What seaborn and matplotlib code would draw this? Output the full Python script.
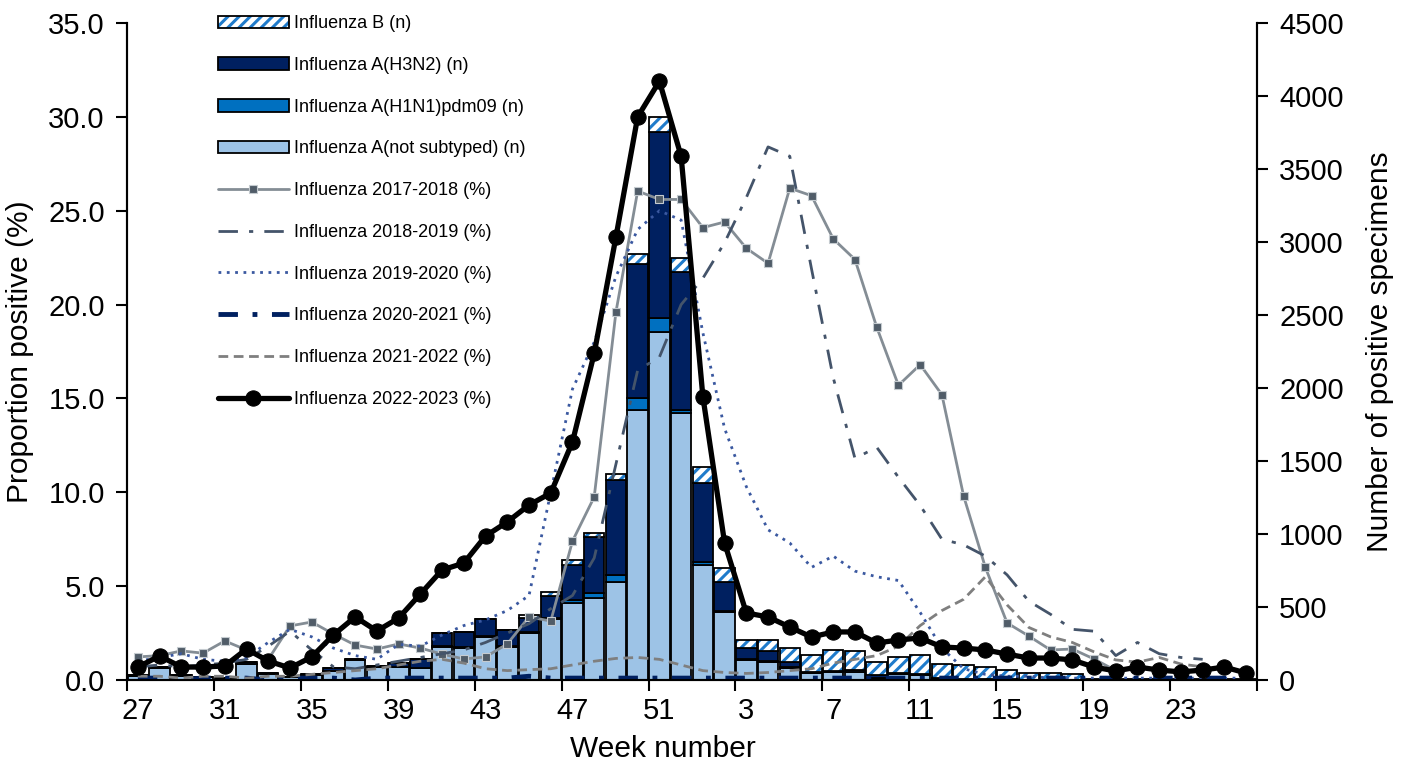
import numpy as np
import matplotlib
matplotlib.use("Agg")
import matplotlib.pyplot as plt
import matplotlib.patches as mpatches
from matplotlib.legend_handler import HandlerTuple
import seaborn as sns

# week axis: season runs week 27 .. week 26 of next year
weeks = list(range(27, 53)) + list(range(1, 27))
tick_weeks = [27, 31, 35, 39, 43, 47, 51, 3, 7, 11, 15, 19, 23]

# number of positive specimens (right axis), stacked bottom -> top
a_not_subtyped = [30, 82, 30, 18, 12, 110, 40, 18, 36, 62, 137, 90, 89, 82, 226, 219, 294, 226, 322, 418,
                  527, 562, 671, 1849, 2383, 1829, 788, 466, 137, 123, 82, 48, 55, 55, 14, 40, 34, 8, 5, 5,
                  4, 3, 3, 3, 2, 2, 2, 2, 2, 2, 2, 2]
a_h1n1 = [0, 0, 0, 0, 0, 0, 0, 0, 0, 0, 0, 0, 0, 0, 8, 8, 6, 8, 6, 10,
          20, 34, 50, 82, 96, 21, 21, 10, 5, 5, 4, 3, 2, 2, 2, 2, 2, 1, 0, 0,
          0, 0, 0, 0, 0, 0, 0, 0, 0, 0, 0, 0]
a_h3n2 = [5, 7, 4, 2, 2, 10, 8, 2, 4, 20, 7, 6, 27, 62, 88, 102, 118, 108, 96, 150,
          240, 384, 650, 918, 1274, 945, 540, 192, 75, 68, 34, 7, 5, 13, 20, 5, 5, 7, 2, 2,
          2, 0, 0, 0, 0, 0, 0, 0, 0, 0, 0, 0]
b_all = [0, 0, 0, 0, 0, 3, 0, 0, 0, 0, 0, 0, 0, 0, 0, 0, 0, 0, 23, 27,
         34, 28, 41, 68, 103, 96, 110, 96, 55, 75, 96, 116, 144, 130, 89, 110, 130, 95, 96, 82,
         62, 45, 45, 38, 3, 3, 3, 3, 3, 3, 3, 3]

# proportion positive (%) (left axis)
flu_1718 = [1.23, 1.3, 1.55, 1.43, 2.08, 1.6, 1.1, 2.88, 3.09, 2.45, 1.86, 1.65, 1.92, 1.7, 1.38, 1.12,
            1.23, 1.92, 3.36, 3.14, 7.4, 9.75, 19.6, 26.05, 25.6, 25.6, 24.1, 24.4, 23.0, 22.2, 26.2,
            25.8, 23.5, 22.4, 18.8, 15.7, 16.8, 15.2, 9.8, 6.0, 3.04, 2.34, 1.6, 1.65, 1.12, 0.5]
flu_1819 = [0.7, 0.8, 0.7, 0.8, 0.9, 1.1, 1.8, 2.6, 1.6, 0.7, 0.6, 0.8, 1.0, 1.2, 1.4, 1.6, 2.0, 2.5,
            3.0, 3.8, 4.5, 6.5, 11.5, 16.5, 17.2, 20.0, 21.4, 23.3, 25.7, 28.4, 27.9, 21.9, 16.1, 11.8,
            12.4, 10.8, 9.3, 7.5, 7.2, 6.6, 5.6, 4.2, 3.5, 2.7, 2.6, 1.3, 2.0, 1.4, 1.2, 1.1]
flu_1920 = [1.0, 1.2, 1.4, 1.1, 1.0, 1.2, 2.0, 2.7, 2.3, 1.7, 1.3, 1.1, 1.9, 1.8, 2.4, 2.9, 3.2, 3.7,
            4.5, 10.0, 15.5, 18.0, 21.5, 24.0, 25.0, 24.5, 18.5, 13.4, 10.3, 8.0, 7.3, 6.0, 6.6, 5.8,
            5.5, 5.3, 3.6, 1.7, 0.6, 0.3, 0.2, 0.2, 0.1, 0.1, 0.1, 0.1, 0.1, 0.1, 0.1, 0.1, 0.1, 0.1]
flu_2021 = [0.1, 0.1, 0.0, 0.1, 0.1, 0.1, 0.0, 0.1, 0.1, 0.1, 0.0, 0.1, 0.1, 0.1, 0.1, 0.1, 0.1, 0.1,
            0.2, 0.1, 0.1, 0.1, 0.1, 0.1, 0.1, 0.1, 0.1, 0.1, 0.1, 0.1, 0.1, 0.1, 0.1, 0.1, 0.1, 0.1,
            0.1, 0.1, 0.1, 0.1, 0.1, 0.1, 0.1, 0.1, 0.1, 0.1, 0.1, 0.1, 0.1, 0.1, 0.1, 0.1]
flu_2122 = [0.2, 0.2, 0.1, 0.2, 0.2, 0.1, 0.2, 0.2, 0.3, 0.4, 0.5, 0.6, 0.8, 1.0, 1.1, 0.9, 0.6, 0.5,
            0.55, 0.6, 0.8, 1.0, 1.15, 1.2, 1.1, 0.8, 0.5, 0.4, 0.35, 0.4, 0.5, 0.6, 0.9, 1.1, 1.3, 1.8,
            2.9, 3.7, 4.3, 5.5, 4.0, 2.8, 2.3, 2.0, 1.5, 1.07, 0.95, 1.2, 0.85, 0.7]
flu_2223 = [0.69, 1.28, 0.69, 0.69, 0.75, 1.65, 1.01, 0.64, 1.23, 2.40, 3.36, 2.61, 3.30, 4.58, 5.86,
            6.23, 7.67, 8.42, 9.32, 9.96, 12.68, 17.4, 23.6, 30.0, 31.9, 27.9, 15.1, 7.3, 3.57, 3.36,
            2.82, 2.29, 2.56, 2.56, 1.97, 2.13, 2.24, 1.76, 1.70, 1.60, 1.38, 1.17, 1.17, 1.07, 0.69,
            0.48, 0.69, 0.53, 0.43, 0.53, 0.69, 0.37]

sns.set_style("ticks")
plt.rcParams['font.family'] = ['Liberation Sans', 'DejaVu Sans']
plt.rcParams['hatch.linewidth'] = 2.2
for k in ('text.color', 'axes.labelcolor', 'xtick.color', 'ytick.color'):
    plt.rcParams[k] = 'black'

c_light = '#9DC3E6'
c_mid = '#0070C0'
c_navy = '#002060'
c_hatch = '#1F7BCB'

fig = plt.figure(figsize=(14.08, 7.68), dpi=100)
ax = fig.add_axes([127 / 1408, 1 - 680 / 768, 1130 / 1408, 657 / 768])
ax2 = ax.twinx()

x = np.arange(len(weeks))
w = 0.94
bot = np.zeros(len(weeks))
for vals, col in [(a_not_subtyped, c_light), (a_h1n1, c_mid), (a_h3n2, c_navy)]:
    ax.bar(x, vals, bottom=bot, width=w, color=col, edgecolor='black', linewidth=1.3, zorder=2)
    bot = bot + np.array(vals)
# influenza B: hatched fill, then black outline on top
ax.bar(x, b_all, bottom=bot, width=w, color='white', edgecolor=c_hatch, hatch='///', linewidth=0, zorder=2)
ax.bar(x, b_all, bottom=bot, width=w, color='none', edgecolor='black', linewidth=1.3, zorder=3)

ax.set_ylim(0, 4500)
ax.set_yticks(range(0, 4501, 500))
ax.yaxis.tick_right()
ax.yaxis.set_label_position('right')
ax.set_ylabel('Number of positive specimens', fontsize=21.5, labelpad=16)

# lines on the percent axis
sns.lineplot(x=x[:len(flu_1718)], y=flu_1718, ax=ax2, color='#848D95', linewidth=2, marker='s',
             markersize=6, markerfacecolor='#505C68', markeredgecolor='#C5CBD0', markeredgewidth=0.8,
             label='Influenza 2017-2018 (%)', legend=False)
sns.lineplot(x=x[:len(flu_1819)], y=flu_1819, ax=ax2, color='#44546A', linewidth=2,
             linestyle=(0, (7, 4, 1.5, 4)), label='Influenza 2018-2019 (%)', legend=False)
sns.lineplot(x=x[:len(flu_1920)], y=flu_1920, ax=ax2, color='#3A58A0', linewidth=2,
             linestyle=(0, (1, 2)), label='Influenza 2019-2020 (%)', legend=False)
sns.lineplot(x=x[:len(flu_2021)], y=flu_2021, ax=ax2, color=c_navy, linewidth=3.5,
             linestyle=(0, (4, 3, 1, 3)), label='Influenza 2020-2021 (%)', legend=False)
sns.lineplot(x=x[:len(flu_2122)], y=flu_2122, ax=ax2, color='#7F7F7F', linewidth=2,
             linestyle=(0, (3.5, 2)), label='Influenza 2021-2022 (%)', legend=False)
sns.lineplot(x=x, y=flu_2223, ax=ax2, color='black', linewidth=3.8, marker='o', markersize=11,
             markerfacecolor='black', markeredgecolor='black', label='Influenza 2022-2023 (%)',
             legend=False)

ax2.set_ylim(0, 35)
ax2.set_yticks(np.arange(0, 35.1, 5))
ax2.set_yticklabels([f'{v:.1f}' for v in np.arange(0, 35.1, 5)])
ax2.yaxis.tick_left()
ax2.yaxis.set_label_position('left')
ax2.set_ylabel('Proportion positive (%)', fontsize=21.5, labelpad=10)

ax.set_xlim(-0.5, len(weeks) - 0.5)
# tick marks between categories, labels on the categories
ax.set_xticks(np.arange(-0.5, len(weeks), 4))
ax.set_xticklabels([])
ax.set_xticks([weeks.index(t) for t in tick_weeks], minor=True)
ax.set_xticklabels([str(t) for t in tick_weeks], minor=True)
ax.tick_params(axis='x', which='minor', length=0, labelsize=21, pad=12)
ax.tick_params(axis='x', which='major', length=8, width=1.5, direction='out')
ax.set_xlabel('Week number', fontsize=21.5)
ax.xaxis.set_label_coords(0.474, -0.083)
ax.tick_params(axis='y', labelsize=21, length=8, width=1.5, direction='out', pad=8)
ax2.tick_params(axis='y', labelsize=21, length=8, width=1.5, direction='out', pad=8)

for a in (ax, ax2):
    a.spines['top'].set_visible(False)
    for s in ('left', 'right', 'bottom'):
        a.spines[s].set_linewidth(1.5)
        a.spines[s].set_color('black')
    a.grid(False)

# legend
h_b = (mpatches.Patch(facecolor='white', edgecolor=c_hatch, hatch='///', linewidth=0),
       mpatches.Patch(facecolor='none', edgecolor='black', linewidth=1.3))
h_h3 = mpatches.Patch(facecolor=c_navy, edgecolor='black', linewidth=1.3)
h_h1 = mpatches.Patch(facecolor=c_mid, edgecolor='black', linewidth=1.3)
h_ns = mpatches.Patch(facecolor=c_light, edgecolor='black', linewidth=1.3)
line_h, line_l = ax2.get_legend_handles_labels()
handles = [h_b, h_h3, h_h1, h_ns] + line_h
labels = ['Influenza B (n)', 'Influenza A(H3N2) (n)', 'Influenza A(H1N1)pdm09 (n)',
          'Influenza A(not subtyped) (n)'] + line_l
ax2.legend(handles, labels, loc='upper left', bbox_to_anchor=(211 / 1408, 1 - 8 / 768),
           bbox_transform=fig.transFigure, frameon=False, fontsize=13, handlelength=3.9,
           handletextpad=0.3, labelspacing=1.37, borderaxespad=0,
           handler_map={tuple: HandlerTuple(ndivide=1, pad=0)})

fig.savefig('out.png', dpi=100)
